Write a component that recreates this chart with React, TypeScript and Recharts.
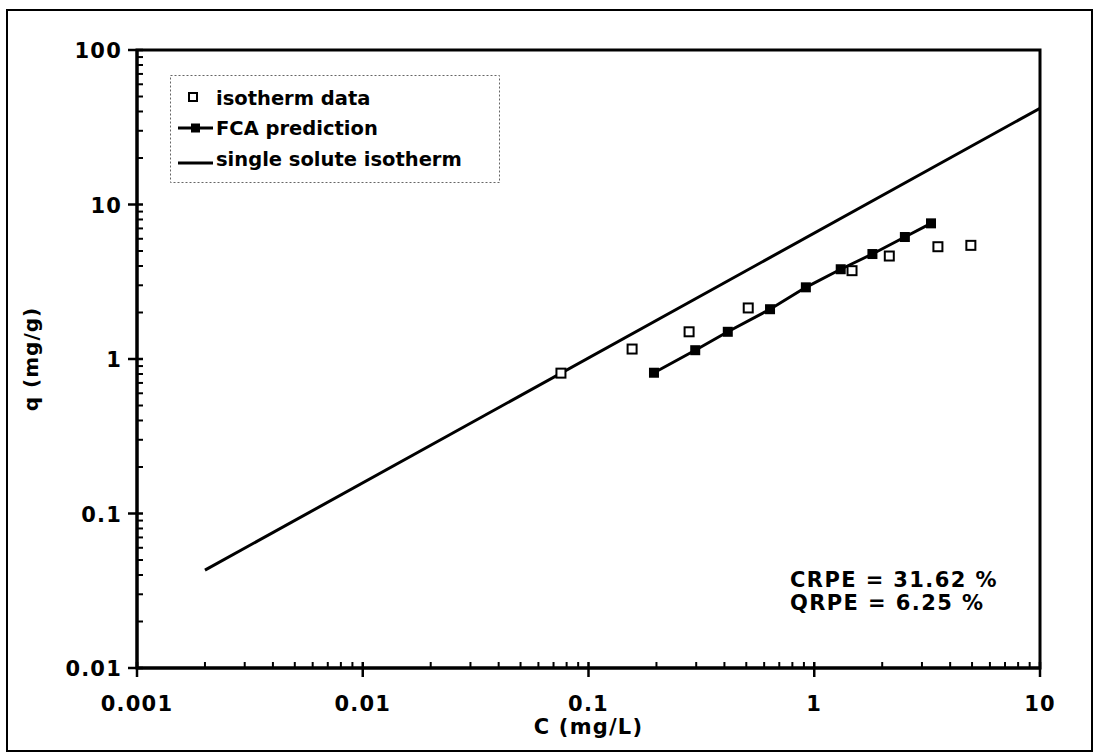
import React from 'react'
import { ComposedChart, Line, Scatter, XAxis, YAxis, ReferenceArea, Legend } from 'recharts'

// isotherm data (open squares)
const isoC = [0.0755, 0.156, 0.279, 0.51, 1.47, 2.15, 3.53, 4.94]
const isoQ = [0.81, 1.16, 1.5, 2.14, 3.73, 4.64, 5.33, 5.44]

// FCA prediction (filled squares + line)
const fcaC = [0.195, 0.297, 0.414, 0.637, 0.918, 1.31, 1.81, 2.52, 3.29]
const fcaQ = [0.815, 1.14, 1.5, 2.1, 2.91, 3.81, 4.78, 6.16, 7.55]

// single solute isotherm (straight line in log-log)
const singleC = [0.002, 10]
const singleQ = [0.043, 42]

const xMajor = [0.001, 0.01, 0.1, 1, 10]
const xLabels = ['0.001', '0.01', '0.1', '1', '10']
const yMajor = [0.01, 0.1, 1, 10, 100]
const yLabels = ['0.01', '0.1', '1', '10', '100']
const minorSteps = [2, 3, 4, 5, 6, 7, 8, 9]

const notes = ['CRPE = 31.62 %', 'QRPE = 6.25 %']
const legendNames = ['isotherm data', 'FCA prediction', 'single solute isotherm']

const FONT = '"DejaVu Sans", "Liberation Sans", Arial, sans-serif'

const withMinor = (majors: number[]) => {
  const out: number[] = []
  majors.forEach((m, i) => {
    out.push(m)
    if (i < majors.length - 1) minorSteps.forEach(s => out.push(m * s))
  })
  return out
}
const xTicks = withMinor(xMajor)
const yTicks = withMinor(yMajor)

const isoData = isoC.map((c, i) => ({ c, q: isoQ[i] }))
const fcaData = fcaC.map((c, i) => ({ c, q: fcaQ[i] }))
const singleData = singleC.map((c, i) => ({ c, q: singleQ[i] }))

const majorIdx = (list: number[], v: number) =>
  list.findIndex(m => Math.abs(Math.log10(m) - Math.log10(v)) < 1e-6)

function XTick(props: any) {
  const { x, y, payload } = props
  const i = majorIdx(xMajor, payload.value)
  if (i < 0) return <line x1={x} x2={x} y1={y} y2={y - 6} stroke="#000" strokeWidth={2} />
  return (
    <g>
      <line x1={x} x2={x} y1={y - 6} y2={y + 9} stroke="#000" strokeWidth={2.5} />
      <text x={x} y={y + 43} textAnchor="middle" fontFamily={FONT} fontWeight="bold" fontSize={21} letterSpacing={1.2} fill="#000">
        {xLabels[i]}
      </text>
    </g>
  )
}

function YTick(props: any) {
  const { x, y, payload } = props
  const i = majorIdx(yMajor, payload.value)
  if (i < 0) return <line x1={x} x2={x + 6} y1={y} y2={y} stroke="#000" strokeWidth={2} />
  return (
    <g>
      <line x1={x - 9} x2={x + 6} y1={y} y2={y} stroke="#000" strokeWidth={2.5} />
      <text x={x - 15} y={y + 8} textAnchor="end" fontFamily={FONT} fontWeight="bold" fontSize={21} letterSpacing={1.2} fill="#000">
        {yLabels[i]}
      </text>
    </g>
  )
}

const OpenSquare = (p: any) => (
  <rect x={p.cx - 4.5} y={p.cy - 4.5} width={9} height={9} fill="#fff" stroke="#000" strokeWidth={2} />
)

const FilledSquare = (p: any) => (
  <rect key={`fca-${p.index}`} x={p.cx - 5} y={p.cy - 5} width={10} height={10} fill="#000" />
)

function LegendBox() {
  const txt = { fontFamily: FONT, fontWeight: 'bold' as const, fontSize: 19.5, fill: '#000' }
  return (
    <svg width={330} height={108} style={{ display: 'block' }}>
      <rect x={0.5} y={0.5} width={329} height={107} fill="#fff" stroke="#666" strokeWidth={1} strokeDasharray="2 2" />
      <rect x={19} y={18} width={8} height={8} fill="#fff" stroke="#000" strokeWidth={2} />
      <text x={46} y={30} {...txt}>{legendNames[0]}</text>
      <line x1={8} x2={43} y1={53} y2={53} stroke="#000" strokeWidth={3} />
      <rect x={21} y={48.5} width={9} height={9} fill="#000" />
      <text x={46} y={60} {...txt}>{legendNames[1]}</text>
      <line x1={8} x2={43} y1={88} y2={88} stroke="#000" strokeWidth={3} />
      <text x={46} y={91} {...txt}>{legendNames[2]}</text>
    </svg>
  )
}

export default function App() {
  return (
    <div style={{ position: 'absolute', left: 0, top: 0, width: 1099, height: 754, background: '#fff' }}>
      <ComposedChart
        width={1099}
        height={754}
        margin={{ top: 50, right: 59, bottom: 46, left: 27 }}
      >
        <XAxis
          dataKey="c"
          type="number"
          scale="log"
          domain={[0.001, 10]}
          ticks={xTicks}
          interval={0}
          height={40}
          tickSize={0}
          tickMargin={0}
          tickLine={false}
          axisLine={{ stroke: '#000', strokeWidth: 3 }}
          tick={<XTick />}
          allowDataOverflow
          label={{
            value: 'C (mg/L)',
            content: (p: any) => (
              <text x={p.viewBox.x + p.viewBox.width / 2} y={734} textAnchor="middle" fontFamily={FONT} fontWeight="bold" fontSize={21} letterSpacing={1.2} fill="#000">
                C (mg/L)
              </text>
            ),
          }}
        />
        <YAxis
          dataKey="q"
          type="number"
          scale="log"
          domain={[0.01, 100]}
          ticks={yTicks}
          interval={0}
          width={110}
          tickSize={0}
          tickMargin={0}
          tickLine={false}
          axisLine={{ stroke: '#000', strokeWidth: 3 }}
          tick={<YTick />}
          allowDataOverflow
          label={{
            value: 'q (mg/g)',
            content: () => (
              <text x={38} y={359} transform="rotate(-90 38 359)" textAnchor="middle" fontFamily={FONT} fontWeight="bold" fontSize={20} letterSpacing={1} fill="#000">
                q (mg/g)
              </text>
            ),
          }}
        />
        <ReferenceArea x1={0.001} x2={10} y1={0.01} y2={100} fill="none" stroke="#000" strokeWidth={3} />
        <Legend
          layout="vertical"
          align="center"
          verticalAlign="middle"
          wrapperStyle={{ left: 170, top: 75, width: 330, height: 108 }}
          content={() => <LegendBox />}
        />
        <Line
          data={singleData}
          dataKey="q"
          name="single solute isotherm"
          type="linear"
          stroke="#000"
          strokeWidth={3}
          dot={false}
          isAnimationActive={false}
        />
        <Line
          data={fcaData}
          dataKey="q"
          name="FCA prediction"
          type="linear"
          stroke="#000"
          strokeWidth={3}
          dot={FilledSquare}
          isAnimationActive={false}
        />
        <Scatter
          data={isoData}
          dataKey="q"
          name="isotherm data"
          shape={OpenSquare}
          isAnimationActive={false}
        />
      </ComposedChart>
      <svg width={1099} height={754} style={{ position: 'absolute', left: 0, top: 0, pointerEvents: 'none' }}>
        <rect x={7} y={10} width={1085} height={741} fill="none" stroke="#000" strokeWidth={2} />
        {notes.map((n, i) => (
          <text key={n} x={790} y={587 + i * 23} fontFamily={FONT} fontWeight="bold" fontSize={21} letterSpacing={1.4} fill="#000">
            {n}
          </text>
        ))}
      </svg>
    </div>
  )
}
